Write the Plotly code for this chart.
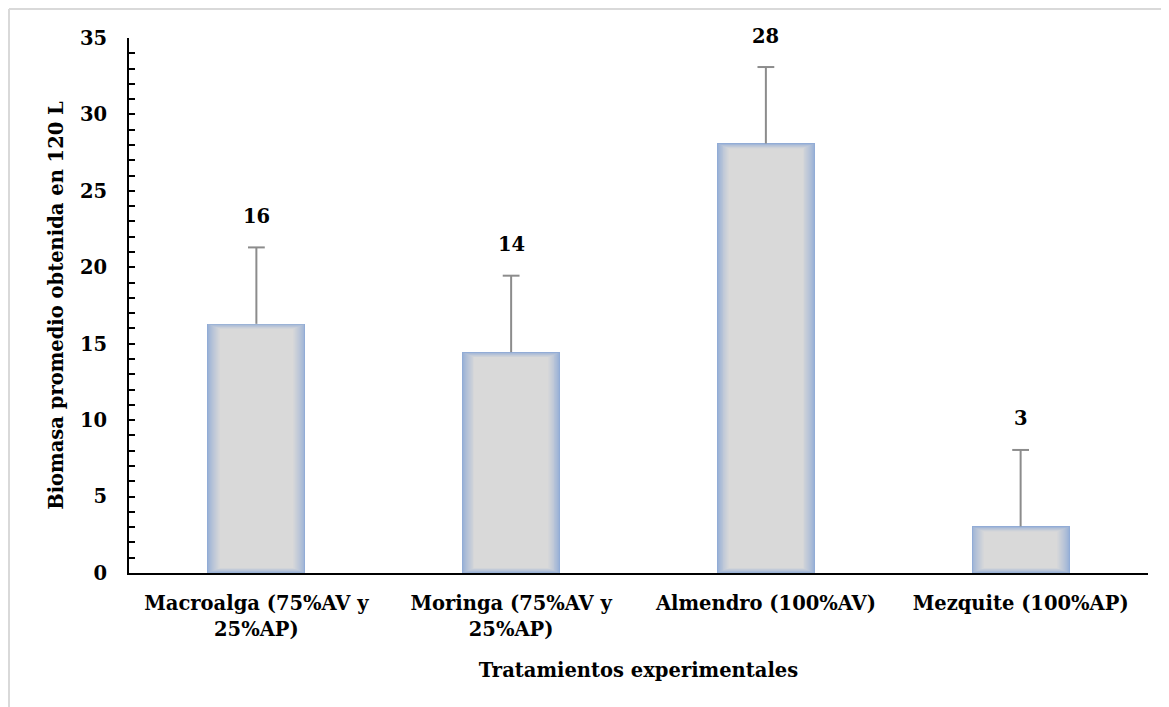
import plotly.graph_objects as go

# ---- data ----
categories = ["Macroalga (75%AV y<br>25%AP)", "Moringa (75%AV y<br>25%AP)",
              "Almendro (100%AV)", "Mezquite (100%AP)"]
values = [16.3, 14.45, 28.1, 3.05]
errors = [5.0, 5.0, 5.0, 5.0]
labels = ["16", "14", "28", "3"]
y_ticks = [0, 5, 10, 15, 20, 25, 30, 35]

# ---- layout constants (page body has an 8px offset) ----
OFF = 8
W, H = 1169, 707
ML, MR, MT, MB = 129 - OFF, 21 + OFF, 38 - OFF, 134 + OFF
plot_w = W - ML - MR
plot_h = H - MT - MB
YMAX = 35
px_cat = plot_w / len(categories)
px_unit = plot_h / YMAX
BAR_W = 0.385
FONT = "DejaVu Serif"
FS = 19.5

fig = go.Figure()

# gradient-like bars via stacked layers
edge = (146, 172, 214)
center = (217, 217, 217)
N = 14
for k in range(N):
    t = (k / (N - 1)) ** 0.75
    col = tuple(round(edge[i] + (center[i] - edge[i]) * t) for i in range(3))
    dx = k * 0.95 / px_cat
    dy = k * 0.4 / px_unit
    fig.add_trace(go.Bar(
        x=categories,
        y=[v - 2 * dy for v in values],
        base=[dy] * len(values),
        width=BAR_W - 2 * dx,
        marker=dict(color="rgb(%d,%d,%d)" % col, line=dict(width=0)),
        hoverinfo="skip", showlegend=False,
    ))

# error bars (upper only)
ex, ey = [], []
for c, v, e in zip(categories, values, errors):
    ex += [c, c, None]
    ey += [v, v + e, None]
fig.add_trace(go.Scatter(x=ex, y=ey, mode="lines",
                         line=dict(color="#8C8C8C", width=2),
                         showlegend=False, hoverinfo="skip"))
fig.add_trace(go.Scatter(x=categories, y=[v + e for v, e in zip(values, errors)],
                         mode="markers",
                         marker=dict(symbol="line-ew", size=12,
                                     line=dict(color="#8C8C8C", width=2)),
                         showlegend=False, hoverinfo="skip"))

# data labels
for c, v, e, lab in zip(categories, values, errors, labels):
    fig.add_annotation(x=c, y=v + e, text=lab, showarrow=False, yshift=31,
                       font=dict(family=FONT, size=FS, color="#000000", weight="bold"))

# outer chart border (top and left)
x0 = (9 - OFF - ML) / plot_w
x1 = (W - ML) / plot_w
ytop = (H - MB - (9 - OFF)) / plot_h
ybot = -MB / plot_h
fig.add_shape(type="line", xref="paper", yref="paper", x0=x0, x1=x1, y0=ytop, y1=ytop,
              line=dict(color="#D9D9D9", width=2))
fig.add_shape(type="line", xref="paper", yref="paper", x0=x0, x1=x0, y0=ybot, y1=ytop,
              line=dict(color="#D9D9D9", width=2))

bold = dict(family=FONT, size=FS, color="#000000", weight="bold")
fig.update_layout(
    width=W, height=H,
    margin=dict(l=ML, r=MR, t=MT, b=MB, autoexpand=False),
    paper_bgcolor="white", plot_bgcolor="white",
    barmode="overlay",
    bargap=0,
    font=bold,
    xaxis=dict(
        showline=True, linecolor="#000000", linewidth=2,
        ticks="", showgrid=False,
        tickfont=bold,
        ticklabelstandoff=12,
        title=dict(text="Tratamientos experimentales", standoff=24, font=bold),
    ),
    yaxis=dict(
        range=[0, YMAX], showline=True, linecolor="#000000", linewidth=2,
        showgrid=False, zeroline=False,
        tickvals=y_ticks, ticks="inside", ticklen=6, tickwidth=2, tickcolor="#000000",
        minor=dict(ticks="inside", dtick=1, ticklen=6, tickwidth=2, tickcolor="#000000"),
        tickfont=bold,
        ticklabelstandoff=16,
        title=dict(text="Biomasa promedio obtenida en 120 L", standoff=11, font=bold),
    ),
)

fig.write_html("out.html")
